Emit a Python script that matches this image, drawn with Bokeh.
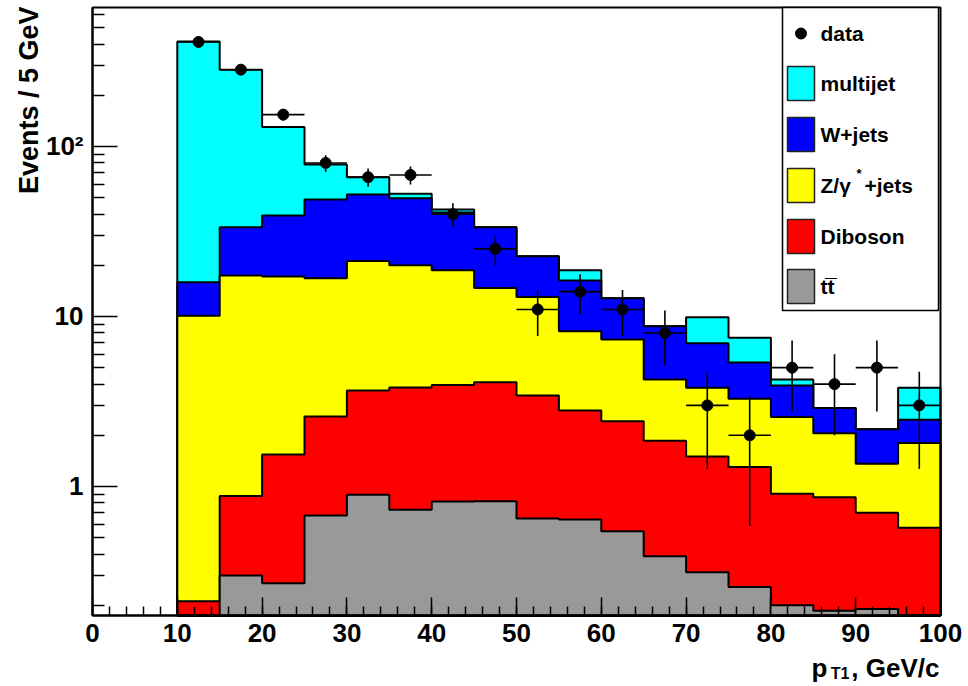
import numpy as np
from math import pi
from bokeh.plotting import figure
from bokeh.models import Range1d, LinearScale, FixedTicker, Label
from bokeh.embed import file_html
from bokeh.resources import INLINE

# ---------------- data ----------------
bin_edges = [10, 15, 20, 25, 30, 35, 40, 45, 50, 55, 60, 65, 70, 75, 80, 85, 90, 95, 100]
ttbar    = [0.0, 0.30, 0.27, 0.675, 0.894, 0.729, 0.816, 0.82, 0.648, 0.64, 0.546, 0.389, 0.313, 0.256, 0.20, 0.186, 0.19, 0.0]
diboson  = [0.211, 0.58, 1.27, 1.905, 2.776, 3.091, 3.144, 3.29, 2.782, 2.16, 1.874, 1.471, 1.187, 1.044, 0.706, 0.679, 0.51, 0.571]
zjets    = [9.89, 16.52, 15.66, 14.22, 17.53, 16.18, 14.74, 10.59, 9.57, 5.40, 4.90, 2.40, 2.31, 1.98, 1.654, 1.195, 0.66, 1.229]
wjets    = [5.8, 16.1, 22.1, 32.0, 31.0, 29.6, 22.2, 18.8, 9.6, 8.1, 5.48, 4.51, 3.16, 2.08, 1.37, 0.84, 0.81, 0.67]
multijet = [399.0, 249.5, 90.7, 29.6, 13.8, 3.1, 1.7, 0.0, 0.0, 2.4, 0.0, 0.0, 2.94, 2.13, 0.33, 0.0, 0.0, 1.34]
data_counts = [412, 283, 154, 80, 66, 68, 40, 25, 11, 14, 11, 8, 3, 2, 5, 4, 5, 3]

# stacking order bottom -> top
stack = [
    ("ttbar", ttbar, "#999999"),
    ("Diboson", diboson, "#ff0000"),
    ("Z/gamma*+jets", zjets, "#ffff00"),
    ("W+jets", wjets, "#0000ff"),
    ("multijet", multijet, "#00ffff"),
]
x_min, x_max = 0, 100
y_min, y_max = 0.17424, 657.06
x_major = list(range(0, 101, 10))
x_minor = list(range(0, 101, 2))
y_major = [1, 10, 100]
y_labels = {1: "1", 10: "10", 100: "10\u00b2"}

# ---------------- canvas geometry (pixels) ----------------
W, H = 968, 686
FL, FR, FT, FB = 92, 940, 7, 615
FONT = "Liberation Sans"

# the figure frame covers the whole canvas; data range extends past the drawn box
ppx = (FR - FL) / (x_max - x_min)
x_start = x_min - FL / ppx
x_end = x_max + (W - FR) / ppx
lo, hi = np.log10(y_min), np.log10(y_max)
ppy = (FB - FT) / (hi - lo)
y_start = 10 ** (lo - (H - FB) / ppy)
y_end = 10 ** (hi + FT / ppy)

p = figure(width=W, height=H, output_backend="svg", toolbar_location=None,
           x_range=Range1d(x_start, x_end), y_range=Range1d(y_start, y_end), y_axis_type="log",
           min_border=0, min_border_left=0, min_border_right=0, min_border_top=0, min_border_bottom=0)
p.extra_x_ranges = {"px": Range1d(0, W)}
p.extra_y_ranges = {"px": Range1d(H, 0)}
p.extra_x_scales = {"px": LinearScale()}
p.extra_y_scales = {"px": LinearScale()}

p.grid.visible = False
p.background_fill_color = "white"
p.border_fill_color = "white"
p.outline_line_color = None

# ---------------- stacked histogram ----------------
edges = np.array(bin_edges, dtype=float)
cum = np.zeros(len(edges) - 1)
cums = []
for name, vals, col in stack:
    cum = cum + np.array(vals, dtype=float)
    cums.append((name, cum.copy(), col))

for name, c, col in reversed(cums):
    cv = np.clip(c, y_min, y_max)
    xs = [edges[0]]
    ys = [y_min]
    for i in range(len(cv)):
        xs += [edges[i], edges[i + 1]]
        ys += [cv[i], cv[i]]
    xs.append(edges[-1])
    ys.append(y_min)
    p.patch(xs, ys, fill_color=col, line_color="black", line_width=2)

# ---------------- data points ----------------
centers = 0.5 * (edges[:-1] + edges[1:])
n = np.array(data_counts, dtype=float)
err = np.sqrt(n)
p.segment(x0=centers, y0=n - err, x1=centers, y1=n + err, line_color="black", line_width=1.6)
p.segment(x0=edges[:-1], y0=n, x1=edges[1:], y1=n, line_color="black", line_width=1.6)
p.scatter(centers, n, size=11, marker="circle", color="black")

# frame box
p.quad(left=x_min, right=x_max, bottom=y_min, top=y_max, fill_color=None,
       line_color="black", line_width=2)

# ---------------- axes (fixed inside the canvas-wide frame) ----------------
xa = p.xaxis[0]
xa.fixed_location = y_min
xa.bounds = (x_min, x_max)
xa.ticker = FixedTicker(ticks=x_major, minor_ticks=x_minor)
xa.major_tick_in = 18
xa.major_tick_out = 0
xa.minor_tick_in = 9
xa.minor_tick_out = 0
xa.axis_line_width = 2
xa.major_tick_line_width = 1.5
xa.minor_tick_line_width = 1.5
xa.major_label_text_font = FONT
xa.major_label_text_font_style = "bold"
xa.major_label_text_font_size = "26px"
xa.major_label_text_color = "black"
xa.major_label_standoff = 8

ya = p.yaxis[0]
ya.fixed_location = x_min
ya.bounds = (y_min, y_max)
minor_y = [m * 10.0 ** k for k in (-1, 0, 1, 2) for m in range(2, 10)]
minor_y = [v for v in minor_y if y_min <= v <= y_max]
ya.ticker = FixedTicker(ticks=y_major, minor_ticks=minor_y)
ya.major_label_overrides = y_labels
ya.major_tick_in = 25
ya.major_tick_out = 0
ya.minor_tick_in = 12
ya.minor_tick_out = 0
ya.axis_line_width = 2
ya.major_tick_line_width = 1.5
ya.minor_tick_line_width = 1.5
ya.major_label_text_font = FONT
ya.major_label_text_font_style = "bold"
ya.major_label_text_font_size = "26px"
ya.major_label_text_color = "black"
ya.major_label_standoff = 9

# ---------------- legend (pixel coordinates) ----------------
kw = dict(x_range_name="px", y_range_name="px")
p.quad(left=782, right=938, top=FT, bottom=310, fill_color="white", line_color="black", line_width=1.5, **kw)
p.scatter([800.5], [33], size=11, marker="circle", color="black", **kw)

def ltext(txt, x, y, size="21px", align="left", baseline="middle", angle=0.0):
    p.add_layout(Label(x=x, y=y, text=txt, text_font=FONT, text_font_style="bold",
                       text_font_size=size, text_align=align, text_baseline=baseline,
                       text_color="black", angle=angle, **kw))

legend_rows = [("multijet", 83, "#00ffff"), ("W+jets", 134, "#0000ff"), ("Z", 185, "#ffff00"),
               ("Diboson", 236, "#ff0000"), ("tt", 286, "#999999")]
for key, yc, col in legend_rows:
    p.quad(left=787, right=814, top=yc - 17, bottom=yc + 17, fill_color=col,
           line_color="#222222", line_width=1.5, **kw)
ltext("data", 820, 33)
ltext("multijet", 820, 83)
ltext("W+jets", 820, 134)
ltext("Z/\u03b3", 820, 185)
ltext("*", 856, 173, size="13px")
ltext("+jets", 864, 185)
ltext("Diboson", 820, 236)
ltext("tt\u0305", 820, 286)

# ---------------- axis titles ----------------
ltext("Events / 5 GeV", 28, FT - 1, size="27px", align="right", angle=pi / 2)
ltext("p", 827, 667, size="26px", align="right", baseline="alphabetic")
ltext("T1", 849, 673, size="16px", align="right", baseline="middle")
ltext(", GeV/c", 939, 667, size="26px", align="right", baseline="alphabetic")

open("out.html", "w").write(file_html(p, INLINE))
